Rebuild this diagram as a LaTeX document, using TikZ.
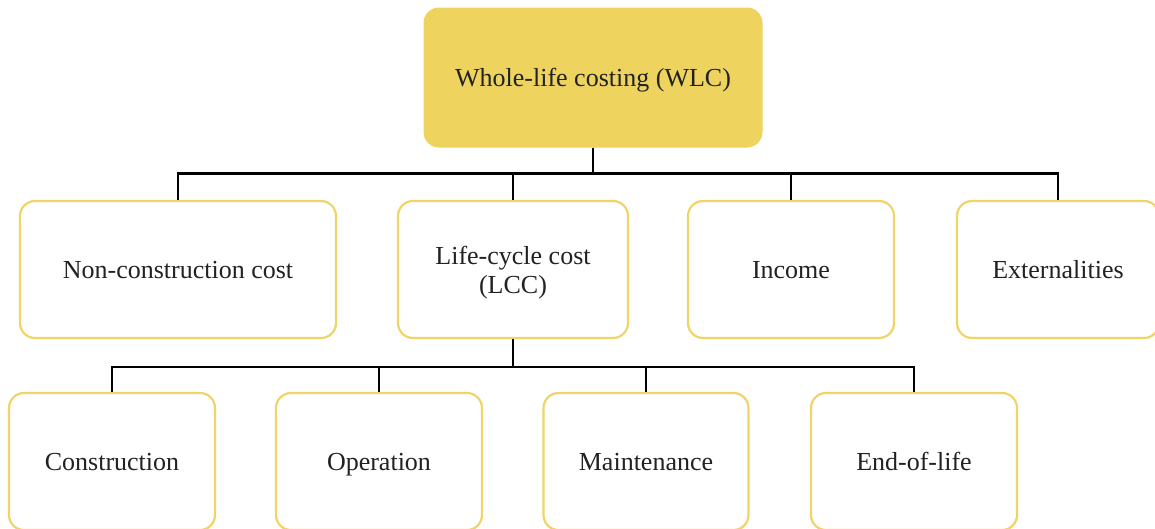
\documentclass[tikz,border=0pt]{standalone}
\usepackage{fontspec}
\setmainfont{Liberation Serif}
\definecolor{wlcgold}{HTML}{EED45E}
\definecolor{boxline}{HTML}{F0D468}
\definecolor{inktext}{HTML}{222222}
\begin{document}
\begin{tikzpicture}[x=1pt,y=-1pt,
  every node/.style={font=\fontsize{26}{29}\selectfont, text=inktext, align=center,
    inner sep=0pt, text height=21pt, text depth=3pt},
  rootbox/.style={rectangle, rounded corners=15pt, fill=wlcgold, draw=wlcgold, line width=1pt,
    minimum width=338pt, minimum height=139pt},
  childbox/.style={rectangle, rounded corners=15pt, fill=white, draw=boxline, line width=2.2pt,
    minimum height=137pt},
  link/.style={draw=black, line width=2.6pt}]
\useasboundingbox (0,0) rectangle (1155,528);
% root
\node[rootbox] (wlc) at (593,77.5) {Whole-life costing (WLC)};
% second level
\node[childbox, minimum width=316pt] (ncc) at (178,269.5) {Non-construction cost};
\node[childbox, minimum width=230pt, text height=50pt, text depth=3pt] (lcc) at (513,269.5) {Life-cycle cost\\(LCC)};
\node[childbox, minimum width=206pt] (inc) at (791,269.5) {Income};
\node[childbox, minimum width=202pt] (ext) at (1058,269.5) {Externalities};
% third level
\node[childbox, minimum width=206pt] (con) at (112,461.5) {Construction};
\node[childbox, minimum width=206pt] (ope) at (379,461.5) {Operation};
\node[childbox, minimum width=205pt] (mai) at (646,461.5) {Maintenance};
\node[childbox, minimum width=206pt] (eol) at (914,461.5) {End-of-life};
% connectors
\foreach \c in {ncc,lcc,inc,ext}
  \draw[link] (wlc.south) -- ++(0,26) -| (\c.north);
\foreach \c in {con,ope,mai,eol}
  \draw[link] (lcc.south) -- ++(0,28) -| (\c.north);
\end{tikzpicture}
\end{document}
